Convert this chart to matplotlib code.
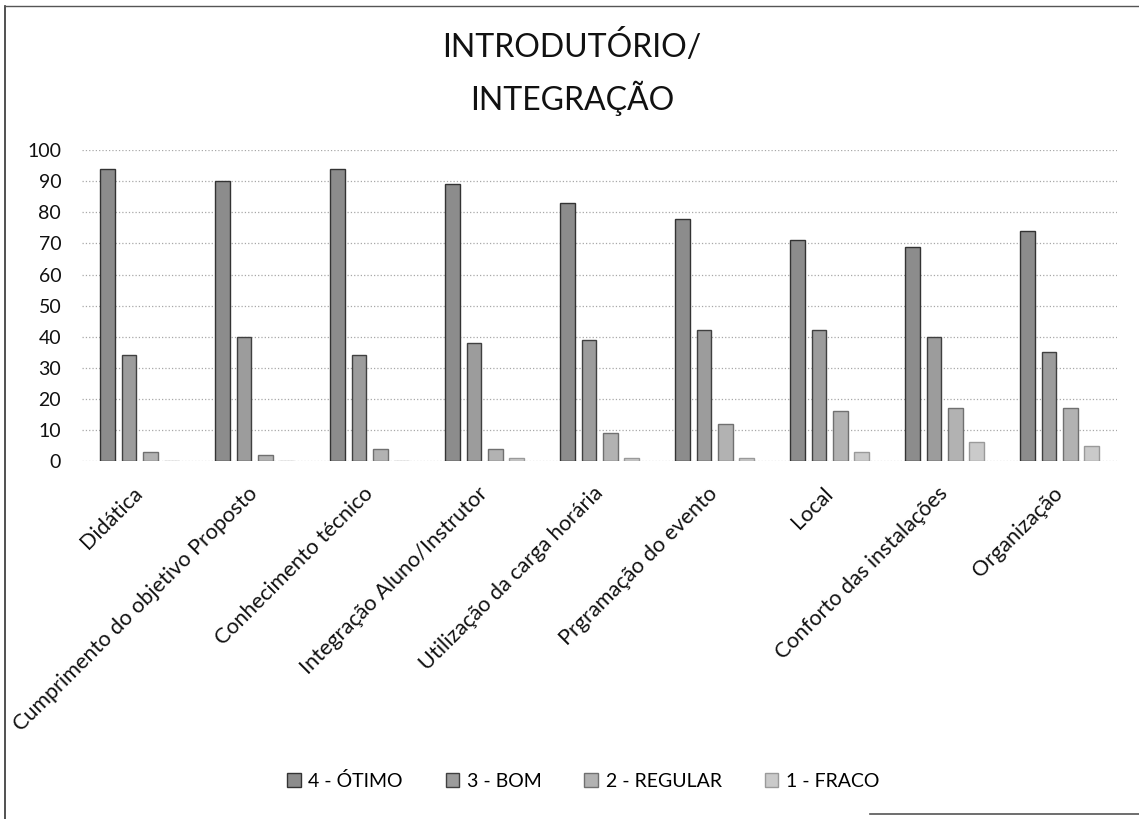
import matplotlib
matplotlib.use("Agg")
import matplotlib.pyplot as plt
import numpy as np
from matplotlib.lines import Line2D

plt.rcParams['font.family'] = ['Lato', 'DejaVu Sans']

categories = ["Didática", "Cumprimento do objetivo Proposto", "Conhecimento técnico",
              "Integração Aluno/Instrutor", "Utilização da carga horária",
              "Prgramação do evento", "Local", "Conforto das instalações", "Organização"]

otimo = [94, 90, 94, 89, 83, 78, 71, 69, 74]
bom = [34, 40, 34, 38, 39, 42, 42, 40, 35]
regular = [3, 2, 4, 4, 9, 12, 16, 17, 17]
fraco = [0, 0, 0, 1, 1, 1, 3, 6, 5]

series_names = ["4 - ÓTIMO", "3 - BOM", "2 - REGULAR", "1 - FRACO"]
series = [otimo, bom, regular, fraco]
fills = ['#8c8c8c', '#9c9c9c', '#b2b2b2', '#cacaca']
edges = ['#333333', '#404040', '#707070', '#9a9a9a']

fig = plt.figure(figsize=(11.39, 8.19), dpi=100)
ax = fig.add_axes([0.072, 0.437, 0.9087, 0.3797])

x = np.arange(len(categories))
pitch = 0.183
width = 0.13
for i, (name, vals) in enumerate(zip(series_names, series)):
    ax.bar(x + (i - 1.5) * pitch, vals, width, label=name, color=fills[i],
           edgecolor=edges[i], linewidth=1.0, zorder=3)

ax.set_xlim(-0.5, len(categories) - 0.5)
ax.set_ylim(0, 100)
ax.set_yticks(range(0, 101, 10))
ax.grid(axis='y', linestyle=':', color='#a8a8a8', linewidth=0.9, zorder=0)
for s in ax.spines.values():
    s.set_visible(False)
ax.tick_params(axis='y', length=0, labelsize=14, colors='#111111', pad=15)
ax.tick_params(axis='x', length=0, labelsize=15.6, colors='#111111', pad=21)
ax.set_xticks(x)
ax.set_xticklabels(categories, rotation=45, ha='right', va='center',
                   rotation_mode='anchor')

# two-line title
fig.text(0.502, 1 - 57 / 819, "INTRODUTÓRIO/", ha='center', va='baseline',
         fontsize=23, color='#111111')
fig.text(0.502, 1 - 110 / 819, "INTEGRAÇÃO", ha='center', va='baseline',
         fontsize=23, color='#111111')

leg = fig.legend(loc='center', bbox_to_anchor=(0.512, 0.047), ncol=4, frameon=False,
                 fontsize=14, handlelength=0.7, handleheight=0.7, columnspacing=2.2,
                 handletextpad=0.4)

# frame lines of the scanned chart box
fig.add_artist(Line2D([5 / 1139, 5 / 1139], [0, 1 - 6 / 819], color='#333333', linewidth=1.2))
fig.add_artist(Line2D([5 / 1139, 1], [1 - 6 / 819, 1 - 6 / 819], color='#555555', linewidth=1.0))
fig.add_artist(Line2D([870 / 1139, 1], [1 - 814 / 819, 1 - 814 / 819], color='#555555', linewidth=1.2))

fig.savefig('out.png', dpi=100)
